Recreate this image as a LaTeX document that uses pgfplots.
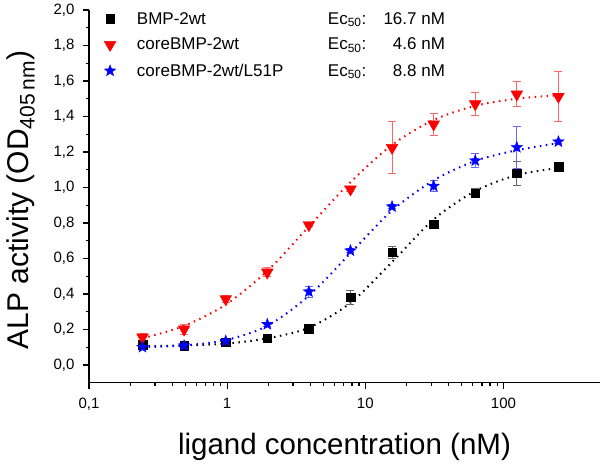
\documentclass[border=0pt]{standalone}
\usepackage{fontspec}
\setmainfont{Liberation Sans}
\usepackage{pgfplots}
\pgfplotsset{compat=1.18}
% filled five-pointed star
\pgfdeclareplotmark{fstar}{%
  \pgfpathmoveto{\pgfpointpolar{90}{\pgfplotmarksize}}%
  \pgfpathlineto{\pgfpointpolar{126}{0.42\pgfplotmarksize}}%
  \pgfpathlineto{\pgfpointpolar{162}{\pgfplotmarksize}}%
  \pgfpathlineto{\pgfpointpolar{198}{0.42\pgfplotmarksize}}%
  \pgfpathlineto{\pgfpointpolar{234}{\pgfplotmarksize}}%
  \pgfpathlineto{\pgfpointpolar{270}{0.42\pgfplotmarksize}}%
  \pgfpathlineto{\pgfpointpolar{306}{\pgfplotmarksize}}%
  \pgfpathlineto{\pgfpointpolar{342}{0.42\pgfplotmarksize}}%
  \pgfpathlineto{\pgfpointpolar{18}{\pgfplotmarksize}}%
  \pgfpathlineto{\pgfpointpolar{54}{0.42\pgfplotmarksize}}%
  \pgfpathclose
  \pgfusepathqfillstroke}
\newcommand{\lgd}[2]{\hspace{19pt}\makebox[191pt][l]{#1}\makebox[40pt][l]{Ec\textsubscript{50}:}\makebox[77pt][r]{#2}}
\begin{document}
\begin{tikzpicture}
\begin{axis}[
  scale only axis, width=511pt, height=372.7pt,
  xmode=log, xmin=0.1, xmax=500, ymin=-0.1, ymax=2.0,
  axis x line*=bottom, axis y line*=left,
  axis line style={line width=1.5pt},
  tick align=outside, tick pos=left,
  major tick length=6pt, minor tick length=3.5pt,
  every tick/.style={line width=1.2pt, black},
  xtick={0.1,1,10,100}, xticklabels={{0,1},1,10,100},
  ytick={0,0.2,0.4,0.6,0.8,1.0,1.2,1.4,1.6,1.8,2.0},
  minor y tick num=1,
  ticklabel style={font=\fontsize{15}{18}\selectfont},
  xticklabel style={yshift=-6pt},
  yticklabel style={xshift=-5pt, /pgf/number format/.cd, fixed, fixed zerofill, precision=1, use comma, assume math mode=true},
  xlabel={ligand concentration (nM)},
  ylabel={ALP activity (OD\textsubscript{405\,nm})},
  xlabel style={font=\fontsize{29.5}{34}\selectfont, at={(axis description cs:0.5,-0.1924)}, anchor=base},
  ylabel style={font=\fontsize{30}{34}\selectfont, at={(axis description cs:-0.1184,0.49)}, anchor=base},
  legend style={at={(0,1)}, anchor=north west, draw=none, fill=none,
    font=\fontsize{17}{20}\selectfont, row sep=8.5pt, inner sep=0pt, xshift=15pt},
  legend cell align=left,
]
% fitted curves
\addplot[black, smooth, line width=2pt, dash pattern=on 1.5pt off 4.5pt, forget plot] coordinates {
  (0.244,0.105) (0.488,0.11) (0.977,0.12) (1.953,0.15) (3.906,0.21) (7.813,0.35)
  (15.625,0.58) (31.25,0.82) (62.5,0.98) (125,1.07) (250,1.11)};
\addplot[red, smooth, line width=2pt, dash pattern=on 1.5pt off 4.5pt, forget plot] coordinates {
  (0.244,0.15) (0.488,0.22) (0.977,0.34) (1.953,0.53) (3.906,0.78) (7.813,1.03)
  (15.625,1.24) (31.25,1.38) (62.5,1.46) (125,1.50) (250,1.52)};
\addplot[blue, smooth, line width=2pt, dash pattern=on 1.5pt off 4.5pt, forget plot] coordinates {
  (0.244,0.10) (0.488,0.11) (0.977,0.14) (1.953,0.22) (3.906,0.39) (7.813,0.63)
  (15.625,0.87) (31.25,1.04) (62.5,1.15) (125,1.21) (250,1.25)};

% measured points
\addplot[only marks, black, mark=square*, mark size=4.3pt,
  error bars/.cd, y dir=both, y explicit,
  error bar style={line width=0.8pt, black!60},
  error mark options={rotate=90, mark size=4pt, line width=0.8pt, black!60}] coordinates {
  (0.244,0.113) +- (0,0.01) (0.488,0.109) +- (0,0.01) (0.977,0.128) +- (0,0.01)
  (1.953,0.150) +- (0,0.01) (3.906,0.205) +- (0,0.01) (7.813,0.381) +- (0,0.04)
  (15.625,0.635) +- (0,0.035) (31.25,0.794) +- (0,0.01) (62.5,0.967) +- (0,0.025)
  (125,1.080) +- (0,0.066) (250,1.117) +- (0,0.01)};
\addlegendentry{\lgd{BMP-2wt}{16.7 nM}}

\addplot[only marks, red, mark=triangle*, mark size=6.8pt, mark options={rotate=180},
  error bars/.cd, y dir=both, y explicit,
  error bar style={line width=0.8pt, red!60},
  error mark options={rotate=90, mark size=4pt, line width=0.8pt, red!60}] coordinates {
  (0.244,0.156) +- (0,0.02) (0.488,0.201) +- (0,0.03) (0.977,0.372) +- (0,0.02)
  (1.953,0.522) +- (0,0.025) (3.906,0.789) +- (0,0.01) (7.813,0.990) +- (0,0.01)
  (15.625,1.224) +- (0,0.147) (31.25,1.356) +- (0,0.06) (62.5,1.470) +- (0,0.064)
  (125,1.525) +- (0,0.07) (250,1.512) +- (0,0.14)};
\addlegendentry{\lgd{coreBMP-2wt}{4.6 nM}}

\addplot[only marks, blue, mark=fstar, mark size=6pt, mark options={fill=blue, line width=0.4pt},
  error bars/.cd, y dir=both, y explicit,
  error bar style={line width=0.8pt, blue!60},
  error mark options={rotate=90, mark size=4pt, line width=0.8pt, blue!60}] coordinates {
  (0.244,0.100) +- (0,0.01) (0.488,0.109) +- (0,0.01) (0.977,0.135) +- (0,0.01)
  (1.953,0.229) +- (0,0.01) (3.906,0.413) +- (0,0.03) (7.813,0.644) +- (0,0.01)
  (15.625,0.892) +- (0,0.01) (31.25,1.008) +- (0,0.03) (62.5,1.151) +- (0,0.04)
  (125,1.226) +- (0,0.12) (250,1.258) +- (0,0.01)};
\addlegendentry{\lgd{coreBMP-2wt/L51P}{8.8 nM}}
\end{axis}
\pgfresetboundingbox
\useasboundingbox (-89pt,-81.3pt) rectangle (511pt,382.7pt);
\end{tikzpicture}
\end{document}
